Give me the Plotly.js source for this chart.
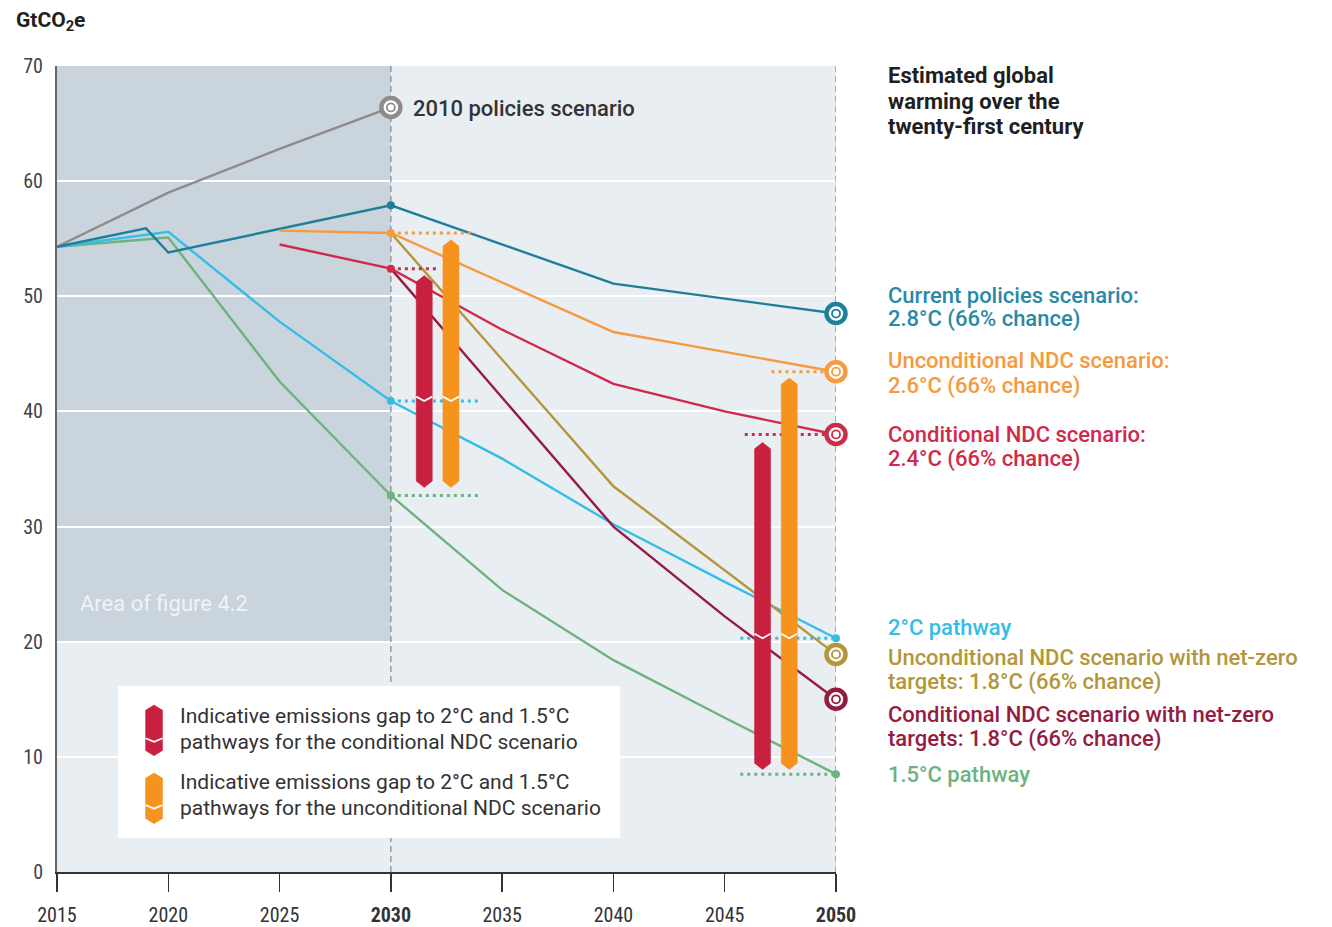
<!DOCTYPE html>
<html>
<head>
<meta charset="utf-8">
<script src="https://cdn.plot.ly/plotly-3.0.1.min.js"></script>
<style>
  html, body { margin: 0; padding: 0; background: #ffffff; }
  #chart { width: 1332px; height: 927px; }
</style>
</head>
<body>
<div id="chart"></div>
<script>
// ---------------- DATA ----------------
const xTickVals = [2015, 2020, 2025, 2030, 2035, 2040, 2045, 2050];
const xTickText = ["2015", "2020", "2025", "<b>2030</b>", "2035", "2040", "2045", "<b>2050</b>"];
const yTickVals = [0, 10, 20, 30, 40, 50, 60, 70];

const policies2010X = [2015, 2020, 2025, 2030];
const policies2010Y = [54.3, 59.0, 62.8, 66.4];

const currentX = [2015, 2019, 2020, 2030, 2040, 2050];
const currentY = [54.3, 55.9, 53.8, 57.9, 51.1, 48.5];

const path2X = [2015, 2020, 2025, 2030, 2035, 2040, 2045, 2050];
const path2Y = [54.3, 55.6, 47.8, 40.9, 35.9, 30.2, 25.2, 20.3];

const path15X = [2015, 2020, 2025, 2030, 2035, 2040, 2045, 2050];
const path15Y = [54.3, 55.1, 42.6, 32.7, 24.5, 18.4, 13.4, 8.5];

const uncondX = [2025, 2030, 2040, 2050];
const uncondY = [55.7, 55.5, 46.9, 43.45];

const condX = [2025, 2030, 2035, 2040, 2045, 2050];
const condY = [54.5, 52.4, 47.1, 42.4, 40.0, 38.0];

const uncondNZX = [2030, 2040, 2050];
const uncondNZY = [55.5, 33.5, 18.9];

const condNZX = [2030, 2040, 2045, 2050];
const condNZY = [52.4, 30.0, 22.2, 15.0];

// emissions-gap bars (conditional = red, unconditional = orange), at 2030 and 2050
const condGapX = [2031.5, 2046.7];
const condGapTop = [51.8, 37.3];
const condGapMid = [40.9, 20.3];
const condGapBottom = [33.4, 8.9];

const uncondGapX = [2032.7, 2047.9];
const uncondGapTop = [54.9, 42.9];
const uncondGapMid = [40.9, 20.3];
const uncondGapBottom = [33.4, 8.9];

// dotted reference levels: [start, end] years
const dot2030Uncond = [2030, 2033.8];
const dot2030Cond = [2030, 2032.2];
const dot2030Path2 = [2030, 2034.0];
const dot2030Path15 = [2030, 2034.0];
const dot2050Uncond = [2047.1, 2050];
const dot2050Cond = [2045.9, 2050];
const dot2050Path2 = [2045.7, 2050];
const dot2050Path15 = [2045.7, 2050];

const legendLines = [
  ["Indicative emissions gap to 2°C and 1.5°C", "pathways for the conditional NDC scenario"],
  ["Indicative emissions gap to 2°C and 1.5°C", "pathways for the unconditional NDC scenario"]
];

const titleLines = ["Estimated global", "warming over the", "twenty-first century"];

const rightLabels = [
  ["Current policies scenario:", "2.8°C (66% chance)"],
  ["Unconditional NDC scenario:", "2.6°C (66% chance)"],
  ["Conditional NDC scenario:", "2.4°C (66% chance)"],
  ["2°C pathway"],
  ["Unconditional NDC scenario with net-zero", "targets: 1.8°C (66% chance)"],
  ["Conditional NDC scenario with net-zero", "targets: 1.8°C (66% chance)"],
  ["1.5°C pathway"]
];

// ---------------- STYLE ----------------
const C = {
  gray: "#8f8a8b",
  teal: "#1f7f9a",
  tealText: "#2a8aa6",
  orange: "#f59a3e",
  orangeBar: "#f6921e",
  red: "#d02a4b",
  redBar: "#c8213f",
  blue: "#35bde8",
  olive: "#b3963a",
  darkred: "#951c40",
  green: "#6db27f",
  bgLight: "#e9eef3",
  bgDark: "#cad4dc"
};
const FONT = "Roboto, 'Open Sans', sans-serif";
const L = 57, T = 66, PW = 779, PH = 806;
const pxX = p => (p - L) / PW;
const pxY = p => (T + PH - p) / PH;

const traces = [];
function line(x, y, color, w) {
  traces.push({ type: "scatter", mode: "lines", x: x, y: y, line: { color: color, width: w || 2.4 }, hoverinfo: "skip", showlegend: false });
}
function dotted(range, yv, color) {
  traces.push({ type: "scatter", mode: "lines", x: range, y: [yv, yv],
    line: { color: color, width: 3, dash: "3px,4px" }, hoverinfo: "skip", showlegend: false });
}
function gapBar(xc, top, mid, bot, color, hw, d) {
  traces.push({ type: "scatter", mode: "lines", fill: "toself", fillcolor: color,
    x: [xc - hw, xc, xc + hw, xc + hw, xc, xc - hw, xc - hw],
    y: [top - d, top, top - d, bot + d, bot, bot + d, top - d],
    line: { color: color, width: 0.5 }, hoverinfo: "skip", showlegend: false });
  traces.push({ type: "scatter", mode: "lines",
    x: [xc - hw, xc, xc + hw], y: [mid + d * 0.7, mid, mid + d * 0.7],
    line: { color: "#ffffff", width: 1.8 }, hoverinfo: "skip", showlegend: false });
}

// lines
line(policies2010X, policies2010Y, C.gray);
line(path15X, path15Y, C.green);
line(path2X, path2Y, C.blue);
line(currentX, currentY, C.teal);
line(uncondNZX, uncondNZY, C.olive);
line(condNZX, condNZY, C.darkred);
line(condX, condY, C.red);
line(uncondX, uncondY, C.orange);

// dotted levels
dotted(dot2030Uncond, uncondY[1], C.orange);
dotted(dot2030Cond, condY[1], C.red);
dotted(dot2030Path2, path2Y[3], C.blue);
dotted(dot2030Path15, path15Y[3], C.green);
dotted(dot2050Uncond, uncondY[uncondY.length - 1], C.orange);
dotted(dot2050Cond, condY[condY.length - 1], C.red);
dotted(dot2050Path2, path2Y[path2Y.length - 1], C.blue);
dotted(dot2050Path15, path15Y[path15Y.length - 1], C.green);

// gap bars
for (let i = 0; i < condGapX.length; i++) {
  gapBar(condGapX[i], condGapTop[i], condGapMid[i], condGapBottom[i], C.redBar, 0.36, 0.55);
  gapBar(uncondGapX[i], uncondGapTop[i], uncondGapMid[i], uncondGapBottom[i], C.orangeBar, 0.36, 0.55);
}

// small dots
traces.push({ type: "scatter", mode: "markers", cliponaxis: false,
  x: [currentX[3], uncondX[1], condX[1], path2X[3], path15X[3], path2X[7], path15X[7]],
  y: [currentY[3], uncondY[1], condY[1], path2Y[3], path15Y[3], path2Y[7], path15Y[7]],
  marker: { size: 8, color: [C.teal, C.orange, C.red, C.blue, C.green, C.blue, C.green] },
  hoverinfo: "skip", showlegend: false });

// end rings
const ringX = [policies2010X[3], currentX[5], uncondX[3], condX[5], uncondNZX[2], condNZX[3]];
const ringY = [policies2010Y[3], currentY[5], uncondY[3], condY[5], uncondNZY[2], condNZY[3]];
const ringC = [C.gray, C.teal, C.orange, C.red, C.olive, C.darkred];
traces.push({ type: "scatter", mode: "markers", cliponaxis: false, x: ringX, y: ringY,
  marker: { size: 19, color: "#ffffff", line: { color: ringC, width: 4.5 } },
  hoverinfo: "skip", showlegend: false });
traces.push({ type: "scatter", mode: "markers", cliponaxis: false, x: ringX, y: ringY,
  marker: { size: 8, symbol: "circle-open", color: ringC, line: { color: ringC, width: 1.8 } },
  hoverinfo: "skip", showlegend: false });

// legend icons (in data coordinates inside the legend box)
gapBar(2019.36, 14.5, 11.3, 10.1, C.redBar, 0.38, 0.45);
gapBar(2019.36, 8.6, 5.5, 4.2, C.orangeBar, 0.38, 0.45);

const shapes = [
  { type: "rect", xref: "x", yref: "y", x0: 2015, x1: 2030, y0: 20, y1: 70, fillcolor: C.bgDark, line: { width: 0 }, layer: "below" },
  { type: "line", xref: "x", yref: "y", x0: 2030, x1: 2030, y0: 0, y1: 70, line: { color: "#8c8c8c", width: 1.3, dash: "6px,4px" }, layer: "between" },
  { type: "line", xref: "x", yref: "y", x0: 2050, x1: 2050, y0: 0, y1: 70, line: { color: "#8c8c8c", width: 1.3, dash: "6px,4px" }, layer: "between" },
  { type: "rect", xref: "x", yref: "y", x0: 2017.74, x1: 2040.3, y0: 2.95, y1: 16.15, fillcolor: "#ffffff", line: { width: 0 }, layer: "between" }
];

function ann(xp, yp, text, size, color, weight, extra) {
  return Object.assign({ xref: "paper", yref: "paper", x: pxX(xp), y: pxY(yp), xanchor: "left", yanchor: "middle",
    align: "left", showarrow: false, text: text,
    font: { family: FONT, size: size, color: color, weight: weight || 400 } }, extra || {});
}

const annotations = [
  ann(14, 22, "GtCO<sub>2</sub>e", 21, "#231f20", 700),
  ann(78, 603, "Area of figure 4.2", 22, "#f0f3f6", 400),
  ann(411, 108, "2010 policies scenario", 22, "#333333", 500)
];
// legend texts
const legendPos = [[716, 742], [782, 808]];
legendLines.forEach((ls, i) => ls.forEach((t, j) => annotations.push(ann(178, legendPos[i][j], t, 21, "#333333", 400))));
// right title
const titlePos = [75, 101, 126];
titleLines.forEach((t, j) => annotations.push(ann(886, titlePos[j], t, 22, "#231f20", 700)));
// right labels
const rightPos = [[295, 319], [361, 386], [434, 459], [627], [657, 682], [714, 739], [774]];
const rightCol = [C.tealText, C.orange, C.red, C.blue, C.olive, C.darkred, C.green];
rightLabels.forEach((ls, i) => ls.forEach((t, j) => annotations.push(ann(886, rightPos[i][j], t, 22, rightCol[i], 500))));

const layout = {
  width: 1332, height: 927,
  margin: { l: L, r: 1332 - L - PW, t: T, b: 927 - T - PH },
  paper_bgcolor: "#ffffff",
  plot_bgcolor: C.bgLight,
  font: { family: FONT },
  showlegend: false,
  xaxis: {
    range: [2015, 2050], tickvals: xTickVals, ticktext: xTickText,
    showgrid: false, zeroline: false, showline: true, linecolor: "#333333", linewidth: 2,
    ticks: "outside", ticklen: 18, tickwidth: 1.5, tickcolor: "#333333",
    ticklabelstandoff: 6,
    tickfont: { family: "'Roboto Condensed', 'Liberation Sans Narrow', Roboto, sans-serif", size: 20, color: "#333333" }
  },
  yaxis: {
    range: [0, 70], tickvals: yTickVals,
    showgrid: true, gridcolor: "#ffffff", gridwidth: 2, zeroline: false,
    showline: true, linecolor: "#666666", linewidth: 2, ticks: "",
    ticklabelstandoff: 8,
    tickfont: { family: "'Roboto Condensed', 'Liberation Sans Narrow', Roboto, sans-serif", size: 20, color: "#444444" }
  },
  shapes: shapes,
  annotations: annotations
};

Plotly.newPlot("chart", traces, layout, { displayModeBar: false, staticPlot: true });
</script>
</body>
</html>
